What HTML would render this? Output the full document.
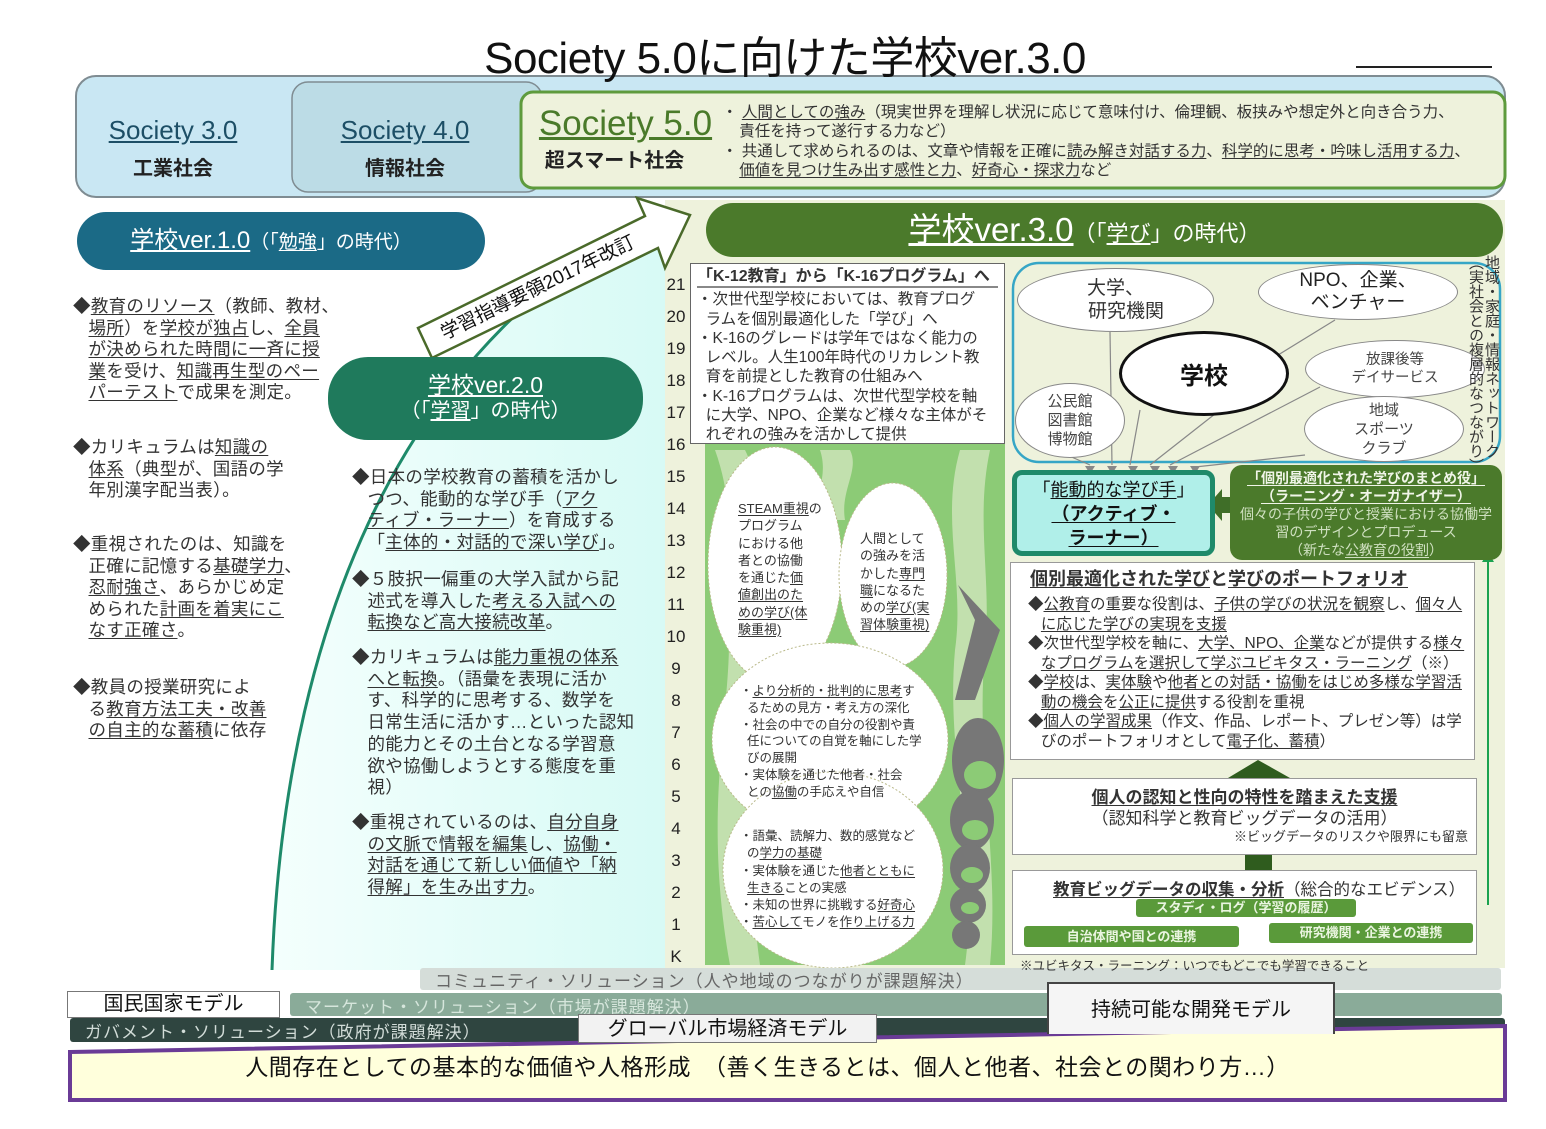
<!DOCTYPE html>
<html><head><meta charset="utf-8">
<style>
*{margin:0;padding:0;box-sizing:border-box}
body{width:1546px;height:1129px;position:relative;background:#fff;font-family:"Liberation Sans","Noto Sans CJK JP",sans-serif;color:#222;overflow:hidden}
.a{position:absolute}
u{text-decoration:underline;text-underline-offset:2px}
.t{font-size:17.5px;line-height:21.6px;color:#333;letter-spacing:0.3px}
.pill{position:absolute;border-radius:40px;color:#fff;text-align:center}
.num{position:absolute;left:664px;width:24px;text-align:center;font-size:17px;color:#222}
.ell{position:absolute;border-radius:50%;background:#fff;border:1px solid #888;display:flex;align-items:center;justify-content:center;text-align:center;color:#444}
</style></head><body>

<svg class="a" style="left:0;top:0" width="1546" height="1129">
<defs>
<linearGradient id="cy" x1="0" x2="1" y1="0" y2="0"><stop offset="0" stop-color="#f4fffd"/><stop offset="1" stop-color="#d7faf5"/></linearGradient>
</defs>
<path d="M272 970 C 285 600, 420 330, 665 212 L 668 970 Z" fill="url(#cy)"/>
<path d="M272 970 C 285 600, 420 330, 665 212" fill="none" stroke="#1e8a6a" stroke-width="3"/>
<rect x="665" y="200" width="840" height="768" fill="#eef2dc"/>
<path d="M705 965 L705 443 L1005 443 L1005 965 Z" fill="#8ccb76"/>
<path d="M715 450 C 740 520, 720 560, 728 620 C 735 700, 700 800, 730 965 L 760 965 C 740 820, 760 700, 752 620 C 745 560, 770 500, 745 450 Z" fill="#eef2dc" opacity="0.55"/>
<path d="M960 450 C 940 520, 965 580, 955 650 C 945 760, 980 860, 965 965 L 990 965 C 1000 860, 975 760, 985 650 C 992 580, 975 520, 990 450 Z" fill="#eef2dc" opacity="0.55"/>
<path d="M820 450 C 830 480, 810 500, 820 520 L 845 520 C 840 490, 860 470, 850 450 Z" fill="#eef2dc" opacity="0.55"/>
<g fill="#777">
<path d="M955 700 L 975 620 L 958 585 L 1000 630 L 975 700 Z"/>
<ellipse cx="978" cy="760" rx="26" ry="42"/><ellipse cx="972" cy="820" rx="22" ry="30"/><ellipse cx="970" cy="868" rx="20" ry="24"/><ellipse cx="968" cy="905" rx="18" ry="18"/><ellipse cx="966" cy="935" rx="14" ry="14"/>
</g>
<g fill="#8ccb76"><ellipse cx="980" cy="775" rx="16" ry="14"/><ellipse cx="975" cy="830" rx="13" ry="10"/><ellipse cx="972" cy="875" rx="11" ry="8"/><ellipse cx="970" cy="908" rx="9" ry="6"/></g>
<g fill="#fff" stroke="#b9b98a" stroke-dasharray="2 2">
<ellipse cx="775" cy="565" rx="67" ry="118"/>
<ellipse cx="893" cy="575" rx="54" ry="92"/>
<ellipse cx="830" cy="740" rx="118" ry="97"/>
<ellipse cx="833" cy="870" rx="110" ry="98"/>
</g>
<rect x="76" y="76" width="1429" height="121" rx="20" fill="#c9e7f3" stroke="#7f8c92" stroke-width="2"/>
<rect x="292" y="82" width="250" height="110" rx="16" fill="#bcdce6" stroke="#7f8c92" stroke-width="1.5"/>
<rect x="521" y="92" width="984" height="96" rx="12" fill="#eef2dc" stroke="#5e9b3d" stroke-width="3"/>
<line x1="1356" y1="67" x2="1492" y2="67" stroke="#222" stroke-width="2"/>
<rect x="1013" y="263" width="487" height="199" rx="26" fill="none" stroke="#36a6c6" stroke-width="2.5"/>
<g stroke="#888" stroke-width="1.2" fill="none">
<line x1="1110" y1="332" x2="1112" y2="465"/>
<line x1="1140" y1="410" x2="1130" y2="465"/>
<line x1="1220" y1="410" x2="1150" y2="465"/>
<line x1="1335" y1="320" x2="1270" y2="360"/>
<line x1="1320" y1="387" x2="1170" y2="465"/>
<line x1="1060" y1="452" x2="1090" y2="465"/>
<line x1="1305" y1="455" x2="1195" y2="467"/>
</g>
<g fill="#888"><path d="M1085 466l10 0-5 8z"/><path d="M1107 466l10 0-5 8z"/><path d="M1128 466l10 0-5 8z"/><path d="M1150 466l10 0-5 8z"/><path d="M1168 466l10 0-5 8z"/><path d="M1190 466l10 0-5 8z"/></g>
<path d="M1232 497 L1232 513 L1222 513 L1222 521 L1208 505 L1222 489 L1222 497 Z" fill="#3f6e28"/>
<line x1="1488" y1="560" x2="1488" y2="905" stroke="#1aa24f" stroke-width="2"/>
<path d="M1482 562 L1488 552 L1494 562 Z" fill="#1aa24f"/>
<path d="M1228 778 L1258 760 L1290 778 L1272 778 L1272 790 L1245 790 L1245 778 Z" fill="#2f5c1e"/>
<path d="M1228 855 L1258 838 L1290 855 L1272 855 L1272 872 L1245 872 L1245 855 Z" fill="#2f5c1e"/>
<path d="M418 328 L645 216 L637 198 L690 215 L665 268 L658 248 L432 358 Z" fill="#fff" stroke="#4a6a2a" stroke-width="2.5"/>
<text x="538" y="288" text-anchor="middle" dominant-baseline="central" transform="rotate(-26 538 288)" font-size="19" fill="#111" font-family="Liberation Sans, Noto Sans CJK JP, sans-serif">学習指導要領2017年改訂</text>
<rect x="420" y="968" width="1081" height="22" rx="3" fill="#d5ddd9"/>
<rect x="290" y="993" width="1212" height="23" rx="3" fill="#8aab99"/>
<rect x="70" y="1018" width="1435" height="24" rx="3" fill="#2f4540"/>
<polygon points="70,1052 1505,1026 1505,1100 70,1100" fill="#ffffdc" stroke="#6a3b96" stroke-width="4"/>
</svg>

<div class="a" style="left:0;top:22px;width:1570px;text-align:center;font-size:44px;color:#111;letter-spacing:-0.5px">Society 5.0に向けた学校ver.3.0</div>

<div class="a" style="left:88px;top:115px;width:170px;text-align:center"><div style="font-size:26px;color:#1d4f66"><u>Society 3.0</u></div><div style="font-size:20px;font-weight:bold;margin-top:6px">工業社会</div></div>
<div class="a" style="left:320px;top:115px;width:170px;text-align:center"><div style="font-size:26px;color:#1d4f66"><u>Society 4.0</u></div><div style="font-size:20px;font-weight:bold;margin-top:6px">情報社会</div></div>
<div class="a" style="left:528px;top:104px;width:195px;text-align:center"><div style="font-size:35px;color:#4a7a2a"><u>Society 5.0</u></div><div style="font-size:20px;font-weight:bold;margin-top:0px;padding-right:22px">超スマート社会</div></div>
<div class="a" style="left:722px;top:103px;width:790px;font-size:15.5px;line-height:19.3px;color:#333">
・ <u>人間としての強み</u>（現実世界を理解し状況に応じて意味付け、倫理観、板挟みや想定外と向き合う力、<br>&nbsp;&nbsp;&nbsp;&nbsp;責任を持って遂行する力など）<br>
・ 共通して求められるのは、文章や情報を正確に<u>読み解き対話する力</u>、<u>科学的に思考・吟味し活用する力</u>、<br>&nbsp;&nbsp;&nbsp;&nbsp;<u>価値を見つけ生み出す感性と力</u>、<u>好奇心・探求力</u>など</div>

<div class="pill" style="left:77px;top:212px;width:408px;height:58px;background:#1b6a86;line-height:58px;font-size:19px;padding-right:20px"><span style="font-size:24px"><u>学校ver.1.0</u></span>（「<u>勉強</u>」の時代）</div>
<div class="a t" style="left:73px;top:296px;width:275px">◆<u>教育のリソース</u>（教師、教材、<br>&nbsp;&nbsp;&nbsp;<u>場所</u>）を<u>学校が独占</u>し、<u>全員</u><br>&nbsp;&nbsp;&nbsp;<u>が決められた時間に一斉に授</u><br>&nbsp;&nbsp;&nbsp;<u>業</u>を受け、<u>知識再生型のペー</u><br>&nbsp;&nbsp;&nbsp;<u>パーテスト</u>で成果を測定。</div>
<div class="a t" style="left:73px;top:437px;width:275px">◆カリキュラムは<u>知識の</u><br>&nbsp;&nbsp;&nbsp;<u>体系</u>（典型が、国語の学<br>&nbsp;&nbsp;&nbsp;年別漢字配当表）。</div>
<div class="a t" style="left:73px;top:534px;width:275px">◆重視されたのは、知識を<br>&nbsp;&nbsp;&nbsp;正確に記憶する<u>基礎学力</u>、<br>&nbsp;&nbsp;&nbsp;<u>忍耐強さ</u>、あらかじめ定<br>&nbsp;&nbsp;&nbsp;められた<u>計画を着実にこ</u><br>&nbsp;&nbsp;&nbsp;<u>なす正確さ</u>。</div>
<div class="a t" style="left:73px;top:677px;width:275px">◆教員の授業研究によ<br>&nbsp;&nbsp;&nbsp;る<u>教育方法工夫・改善</u><br>&nbsp;&nbsp;&nbsp;<u>の自主的な蓄積</u>に依存</div>

<div class="pill" style="left:328px;top:357px;width:315px;height:83px;background:#1f7a5c;padding-top:16px;font-size:20px;line-height:24px"><span style="font-size:23px"><u>学校ver.2.0</u></span><br>（「<u>学習</u>」の時代）</div>
<div class="a t" style="left:352px;top:467px;width:295px;font-size:17.5px;line-height:21.7px">◆日本の学校教育の蓄積を活かし<br>&nbsp;&nbsp;&nbsp;つつ、能動的な学び手（<u>アク</u><br>&nbsp;&nbsp;&nbsp;<u>ティブ・ラーナー</u>）を育成する<br>&nbsp;&nbsp;&nbsp;「<u>主体的・対話的で深い学び</u>」。</div>
<div class="a t" style="left:352px;top:569px;width:295px;font-size:17.5px;line-height:21.7px">◆５肢択一偏重の大学入試から記<br>&nbsp;&nbsp;&nbsp;述式を導入した<u>考える入試への</u><br>&nbsp;&nbsp;&nbsp;<u>転換など高大接続改革</u>。</div>
<div class="a t" style="left:352px;top:647px;width:295px;font-size:17.5px;line-height:21.7px">◆カリキュラムは<u>能力重視の体系</u><br>&nbsp;&nbsp;&nbsp;<u>へと転換</u>。（語彙を表現に活か<br>&nbsp;&nbsp;&nbsp;す、科学的に思考する、数学を<br>&nbsp;&nbsp;&nbsp;日常生活に活かす…といった認知<br>&nbsp;&nbsp;&nbsp;的能力とその土台となる学習意<br>&nbsp;&nbsp;&nbsp;欲や協働しようとする態度を重<br>&nbsp;&nbsp;&nbsp;視）</div>
<div class="a t" style="left:352px;top:812px;width:295px;font-size:17.5px;line-height:21.7px">◆重視されているのは、<u>自分自身</u><br>&nbsp;&nbsp;&nbsp;<u>の文脈で情報を編集</u>し、<u>協働・</u><br>&nbsp;&nbsp;&nbsp;<u>対話を通じて新しい価値や「納</u><br>&nbsp;&nbsp;&nbsp;<u>得解」を生み出す力</u>。</div>

<div class="pill" style="left:706px;top:203px;width:797px;height:54px;background:#4b7a2b;line-height:54px;font-size:22px;padding-right:40px"><span style="font-size:33px"><u>学校ver.3.0</u></span>（「<u>学び</u>」の時代）</div>

<div class="num" style="top:275px">21</div><div class="num" style="top:307px">20</div><div class="num" style="top:339px">19</div><div class="num" style="top:371px">18</div><div class="num" style="top:403px">17</div><div class="num" style="top:435px">16</div><div class="num" style="top:467px">15</div><div class="num" style="top:499px">14</div><div class="num" style="top:531px">13</div><div class="num" style="top:563px">12</div><div class="num" style="top:595px">11</div><div class="num" style="top:627px">10</div><div class="num" style="top:659px">9</div><div class="num" style="top:691px">8</div><div class="num" style="top:723px">7</div><div class="num" style="top:755px">6</div><div class="num" style="top:787px">5</div><div class="num" style="top:819px">4</div><div class="num" style="top:851px">3</div><div class="num" style="top:883px">2</div><div class="num" style="top:915px">1</div><div class="num" style="top:947px">K</div>

<div class="a" style="left:690px;top:263px;width:315px;height:181px;background:#fff;border:1px solid #666;padding:3px 6px;font-size:15.5px;line-height:19.3px;color:#333">
<div style="font-weight:bold;border-bottom:2px solid #888;margin-bottom:2px;font-size:16px">「K-12教育」から「K-16プログラム」へ</div>
・次世代型学校においては、教育プログ<br>&nbsp;&nbsp;ラムを個別最適化した「学び」へ<br>・K-16のグレードは学年ではなく能力の<br>&nbsp;&nbsp;レベル。人生100年時代のリカレント教<br>&nbsp;&nbsp;育を前提とした教育の仕組みへ<br>・K-16プログラムは、次世代型学校を軸<br>&nbsp;&nbsp;に大学、NPO、企業など様々な主体がそ<br>&nbsp;&nbsp;れぞれの強みを活かして提供</div>

<div class="a" style="left:738px;top:500px;font-size:13px;line-height:17.3px;color:#333"><u>STEAM重視</u>の<br>プログラム<br>における他<br>者との協働<br>を通じた<u>価</u><br><u>値創出のた</u><br><u>めの学び(体</u><br><u>験重視)</u></div>
<div class="a" style="left:860px;top:530px;font-size:13px;line-height:17.3px;color:#333">人間として<br>の強みを活<br>かした<u>専門</u><br><u>職</u>になるた<br>めの<u>学び(実</u><br><u>習体験重視)</u></div>
<div class="a" style="left:740px;top:683px;font-size:12.5px;line-height:16.8px;color:#333">・<u>より分析的・批判的に思考</u>す<br>&nbsp;&nbsp;るための見方・考え方の深化<br>・社会の中での自分の役割や責<br>&nbsp;&nbsp;任についての自覚を軸にした学<br>&nbsp;&nbsp;びの展開<br>・実体験を通じた他者・社会<br>&nbsp;&nbsp;との<u>協働</u>の手応えや自信</div>
<div class="a" style="left:740px;top:828px;font-size:12.5px;line-height:17.3px;color:#333">・語彙、読解力、数的感覚など<br>&nbsp;&nbsp;の<u>学力の基礎</u><br>・実体験を通じた<u>他者とともに</u><br>&nbsp;&nbsp;<u>生きる</u>ことの実感<br>・未知の世界に挑戦する<u>好奇心</u><br>・<u>苦心して</u>モノを<u>作り上げる力</u></div>

<div class="ell" style="left:1017px;top:268px;width:197px;height:64px;font-size:19px;line-height:23px;color:#333">大学、<br>&nbsp;&nbsp;&nbsp;&nbsp;研究機関</div>
<div class="ell" style="left:1258px;top:264px;width:200px;height:56px;font-size:19px;line-height:22px;color:#222">NPO、企業、<br>ベンチャー</div>
<div class="ell" style="left:1119px;top:331px;width:170px;height:85px;border:3px solid #111;font-size:24px;font-weight:bold;color:#111">学校</div>
<div class="ell" style="left:1305px;top:340px;width:180px;height:58px;font-size:14.5px;line-height:18px">放課後等<br>デイサービス</div>
<div class="ell" style="left:1015px;top:383px;width:110px;height:75px;font-size:15px;line-height:19px">公民館<br>図書館<br>博物館</div>
<div class="ell" style="left:1304px;top:396px;width:160px;height:66px;font-size:15px;line-height:19px">地域<br>スポーツ<br>クラブ</div>
<div class="a" style="left:1467px;top:255px;height:230px;writing-mode:vertical-rl;font-size:15px;line-height:16px;color:#333;letter-spacing:-0.5px">地域・家庭・情報ネットワーク<br>（実社会との複層的なつながり）</div>

<div class="a" style="left:1012px;top:470px;width:203px;height:86px;background:#b0efe9;border:5px solid #1f8a6a;border-radius:10px;text-align:center;font-size:18px;line-height:24px;padding-top:3px;color:#111">「<u>能動的な学び手</u>」<br><b><u>（アクティブ・</u></b><br><b><u>ラーナー）</u></b></div>
<div class="a" style="left:1230px;top:465px;width:272px;height:95px;background:#4b7a2b;border-radius:12px;text-align:center;color:#f0f5e8;font-size:14px;line-height:18px;padding-top:4px"><b><u>「個別最適化された学びのまとめ役」</u><br><u>（ラーニング・オーガナイザー）</u></b><br><span style="color:#cfe0c0">個々の子供の学びと授業における協働学<br>習のデザインとプロデュース<br>（新たな<u>公教育の役割</u>）</span></div>

<div class="a" style="left:1010px;top:562px;width:465px;height:198px;background:#fff;border:1px solid #999;padding:4px 0 0 17px;font-size:15.5px;line-height:19.5px;color:#333">
<div style="font-size:18px;font-weight:bold;margin-left:2px;margin-bottom:4px;line-height:24px"><u>個別最適化された学び</u>と<u>学びのポートフォリオ</u></div>
◆<u>公教育</u>の重要な役割は、<u>子供の学びの状況を観察</u>し、<u>個々人</u><br>&nbsp;&nbsp;&nbsp;<u>に応じた学びの実現を支援</u><br>◆次世代型学校を軸に、<u>大学、NPO、企業</u>などが提供する<u>様々</u><br>&nbsp;&nbsp;&nbsp;<u>なプログラムを選択して学ぶユビキタス・ラーニング</u>（※）<br>◆<u>学校</u>は、<u>実体験</u>や<u>他者との対話・協働をはじめ多様な学習活</u><br>&nbsp;&nbsp;&nbsp;<u>動の機会</u>を<u>公正に提供</u>する役割を重視<br>◆<u>個人の学習成果</u>（作文、作品、レポート、プレゼン等）は学<br>&nbsp;&nbsp;&nbsp;びのポートフォリオとして<u>電子化、蓄積</u>）</div>

<div class="a" style="left:1012px;top:778px;width:465px;height:77px;background:#fff;border:1px solid #999;text-align:center;font-size:17px;line-height:21px;padding-top:8px;color:#333"><b><u>個人の認知と性向の特性を踏まえた支援</u></b><br>（認知科学と教育ビッグデータの活用）<div style="text-align:right;font-size:13px;line-height:16px;padding-right:8px">※ビッグデータのリスクや限界にも留意</div></div>

<div class="a" style="left:1012px;top:870px;width:465px;height:85px;background:#fff;border:1px solid #999;color:#333">
<div style="position:absolute;left:40px;top:5px;font-size:16.5px"><b><u>教育ビッグデータの収集・分析</u></b>（総合的なエビデンス）</div>
<div style="position:absolute;left:123px;top:28px;width:220px;height:18px;background:#5a9a3a;border-radius:3px;color:#eaf5e0;font-size:13px;line-height:18px;text-align:center;font-weight:bold">スタディ・ログ（学習の履歴）</div>
<div style="position:absolute;left:11px;top:55px;width:215px;height:21px;background:#5a9a3a;border-radius:3px;color:#eaf5e0;font-size:13px;line-height:21px;text-align:center;font-weight:bold">自治体間や国との連携</div>
<div style="position:absolute;left:256px;top:52px;width:204px;height:20px;background:#5a9a3a;border-radius:3px;color:#eaf5e0;font-size:13px;line-height:20px;text-align:center;font-weight:bold">研究機関・企業との連携</div>
</div>
<div class="a" style="left:1020px;top:955px;font-size:12.5px;color:#333">※ユビキタス・ラーニング：いつでもどこでも学習できること</div>

<div class="a" style="left:435px;top:967px;font-size:17px;color:#666;letter-spacing:1px">コミュニティ・ソリューション（人や地域のつながりが課題解決）</div>
<div class="a" style="left:305px;top:993px;font-size:17px;color:#d6e6dc;letter-spacing:1px">マーケット・ソリューション（市場が課題解決）</div>
<div class="a" style="left:85px;top:1018px;font-size:17px;color:#d2dcd8;letter-spacing:1px">ガバメント・ソリューション（政府が課題解決）</div>
<div class="a" style="left:67px;top:991px;width:213px;height:27px;background:#fff;border:1px solid #777;text-align:center;font-size:20px;line-height:25px;color:#111">国民国家モデル</div>
<div class="a" style="left:578px;top:1014px;width:299px;height:29px;background:#f2f2f2;border:1px solid #777;text-align:center;font-size:20px;line-height:28px;color:#111">グローバル市場経済モデル</div>
<div class="a" style="left:1047px;top:982px;width:288px;height:52px;background:#f5f5f5;border:2px solid #444;border-bottom:none;text-align:center;font-size:20px;line-height:52px;color:#111">持続可能な開発モデル</div>
<div class="a" style="left:50px;top:1048px;width:1435px;text-align:center;font-size:23px;color:#111;letter-spacing:0.5px">人間存在としての基本的な価値や人格形成　（善く生きるとは、個人と他者、社会との関わり方…）</div>
</body></html>
